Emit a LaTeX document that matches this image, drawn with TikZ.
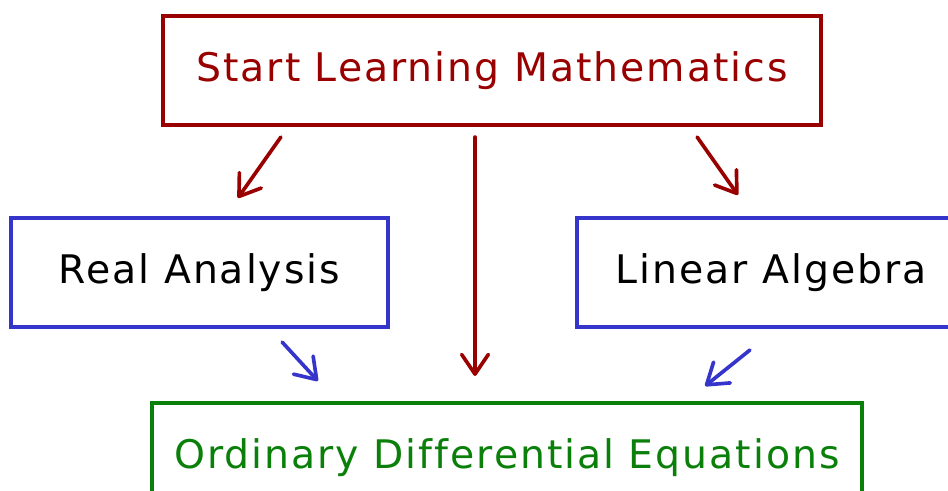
\documentclass[tikz,border=0pt]{standalone}
\usepackage{fontspec}
\setmainfont{DejaVu Sans}[LetterSpace=5,Ligatures=NoCommon]
\usetikzlibrary{arrows.meta,positioning,calc}
\definecolor{startred}{HTML}{990000}
\definecolor{boxblue}{HTML}{3535CC}
\definecolor{odegreen}{HTML}{0A800A}

\begin{document}
\begin{tikzpicture}[x=0.025cm, y=-0.025cm, >={Straight Barb[length=14pt,width=19pt,round]},
    every node/.style={font=\fontsize{28}{34}\selectfont},
    topic/.style={draw, rectangle, line width=2.9pt, inner sep=0pt, minimum height=2.725cm},
    link/.style={->, line width=2.6pt, line cap=round}]
    \clip (0,0) rectangle (948,491);
    % boxes
    \node[topic, startred, text=startred, minimum width=16.45cm] (start) at (492,70.5) {Start Learning Mathematics};
    \node[topic, draw=boxblue, text=black, minimum width=9.425cm] (ra) at (199.5,272.5) {Real Analysis};
    \node[topic, draw=boxblue, text=black, minimum width=9.7cm] (la) at (771,272.5) {Linear Algebra};
    \node[topic, odegreen, text=odegreen, minimum width=17.75cm] (ode) at (507,457.5) {Ordinary Differential Equations};
    % arrows from the top box
    \draw[link, startred] ([shift={(120,10)}]start.south west) -- ([shift={(229,-18)}]ra.north west);
    \draw[link, startred] ([shift={(-17,10)}]start.south) -- ([shift={(-32,-25)}]ode.north);
    \draw[link, startred] ([shift={(-126,10)}]start.south east) -- ([shift={(163,-21)}]la.north west);
    % arrows into the bottom box
    \draw[link, boxblue] ([shift={(-108,13)}]ra.south east) -- ([shift={(168,-20)}]ode.north west);
    \draw[link, boxblue] ([shift={(175,21)}]la.south west) -- ([shift={(-159,-15)}]ode.north east);
\end{tikzpicture}
\end{document}
